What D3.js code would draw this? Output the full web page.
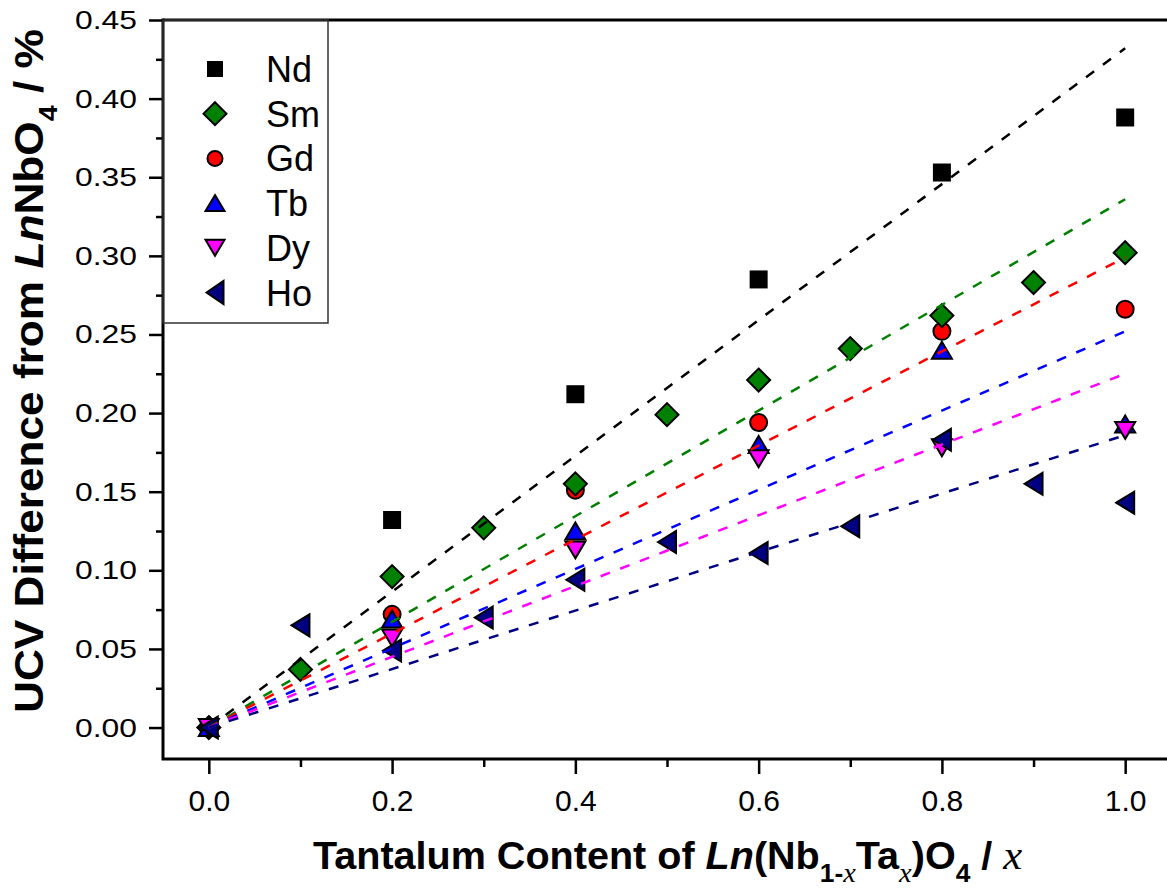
<!DOCTYPE html>
<html><head><meta charset="utf-8">
<script src="https://cdn.jsdelivr.net/npm/d3@7"></script>
<style>
body{margin:0;background:#fff;}
svg{display:block;}
text{font-family:"Liberation Sans",Arial,sans-serif;fill:#000;}
</style></head>
<body>
<svg id="c" width="1167" height="892"></svg>
<script>
// ---- data ----
const xTickVals = [0, 0.2, 0.4, 0.6, 0.8, 1.0];
const xTickLabels = ["0.0", "0.2", "0.4", "0.6", "0.8", "1.0"];
const xMinorVals = [0.1, 0.3, 0.5, 0.7, 0.9];
const yTickVals = [0, 0.05, 0.10, 0.15, 0.20, 0.25, 0.30, 0.35, 0.40, 0.45];
const yTickLabels = ["0.00", "0.05", "0.10", "0.15", "0.20", "0.25", "0.30", "0.35", "0.40", "0.45"];
const yMinorVals = [0.025, 0.075, 0.125, 0.175, 0.225, 0.275, 0.325, 0.375, 0.425];

const seriesNames = ["Nd", "Sm", "Gd", "Tb", "Dy", "Ho"];
const seriesColors = ["#000000", "#008000", "#ff0000", "#0000ff", "#ff00ff", "#000080"];
const seriesShapes = ["square", "diamond", "circle", "up", "down", "left"];

const xNd = [0, 0.2, 0.4, 0.6, 0.8, 1.0];
const yNd = [0, 0.132, 0.212, 0.285, 0.353, 0.388];
const xSm = [0, 0.1, 0.2, 0.3, 0.4, 0.5, 0.6, 0.7, 0.8, 0.9, 1.0];
const ySm = [0, 0.037, 0.096, 0.127, 0.155, 0.199, 0.221, 0.241, 0.262, 0.283, 0.302];
const xGd = [0, 0.2, 0.4, 0.6, 0.8, 1.0];
const yGd = [0, 0.072, 0.151, 0.194, 0.252, 0.266];
const xTb = [0, 0.2, 0.4, 0.6, 0.8, 1.0];
const yTb = [0, 0.069, 0.125, 0.180, 0.240, 0.193];
const xDy = [0, 0.2, 0.4, 0.6, 0.8, 1.0];
const yDy = [0, 0.057, 0.113, 0.171, 0.178, 0.189];
const xHo = [0, 0.1, 0.2, 0.3, 0.4, 0.5, 0.6, 0.7, 0.8, 0.9, 1.0];
const yHo = [0, 0.065, 0.049, 0.070, 0.094, 0.118, 0.111, 0.128, 0.183, 0.155, 0.143];

// linear fits through origin (slope), drawn from x=0 to x=1
const fitSlopes = [0.432, 0.336, 0.299, 0.252, 0.225, 0.186];
const fitRange = [0, 1.0];

const seriesX = [xNd, xSm, xGd, xTb, xDy, xHo];
const seriesY = [yNd, ySm, yGd, yTb, yDy, yHo];
const drawOrder = [0, 2, 1, 3, 4, 5];

// ---- layout ----
const svg = d3.select("#c");
const L = 163, R = 1171, T = 20, B = 759;
const x = d3.scaleLinear().domain([-0.05, 1.05]).range([L, R]);
const y = d3.scaleLinear().domain([-0.02, 0.45]).range([B, T]);

function markerPath(shape, s) {
  const p = d3.path();
  if (shape === "square") { const h = s.sq / 2; p.rect(-h, -h, 2 * h, 2 * h); }
  else if (shape === "diamond") { const h = s.dia; p.moveTo(0, -h); p.lineTo(h, 0); p.lineTo(0, h); p.lineTo(-h, 0); p.closePath(); }
  else if (shape === "circle") { p.arc(0, 0, s.r, 0, 2 * Math.PI); }
  else if (shape === "up") { const w = s.tw / 2, h = s.th / 2; p.moveTo(0, -h); p.lineTo(w, h); p.lineTo(-w, h); p.closePath(); }
  else if (shape === "down") { const w = s.tw / 2, h = s.th / 2; p.moveTo(0, h); p.lineTo(w, -h); p.lineTo(-w, -h); p.closePath(); }
  else if (shape === "left") { const w = s.lw / 2, h = s.lh / 2; p.moveTo(-w, 0); p.lineTo(w, -h); p.lineTo(w, h); p.closePath(); }
  return p.toString();
}
const dataSize = {sq: 18, dia: 11.5, r: 8.5, tw: 20, th: 17, lw: 18, lh: 22};
const legSize = {sq: 16, dia: 11.5, r: 7.5, tw: 19, th: 16, lw: 17, lh: 23};

// markers
const gm = svg.append("g");
drawOrder.forEach(i => {
  const pts = seriesX[i].map((v, j) => [v, seriesY[i][j]]);
  gm.selectAll(null).data(pts).enter().append("path")
    .attr("d", markerPath(seriesShapes[i], dataSize))
    .attr("transform", d => `translate(${x(d[0])},${y(d[1])})`)
    .attr("fill", seriesColors[i])
    .attr("stroke", "#000").attr("stroke-width", i === 0 ? 0 : 2)
    .attr("stroke-linejoin", "miter");
});

// fit lines
const line = d3.line().x(d => x(d[0])).y(d => y(d[1]));
fitSlopes.forEach((k, i) => {
  svg.append("path")
    .attr("d", line(fitRange.map(v => [v, k * v])))
    .attr("fill", "none").attr("stroke", seriesColors[i])
    .attr("stroke-width", 2.5).attr("stroke-dasharray", "10,11");
});

// axes
const xAxis = d3.axisBottom(x).tickValues(xTickVals).tickFormat((d, i) => xTickLabels[i]).tickSize(15).tickPadding(8);
const gx = svg.append("g").attr("transform", `translate(0,${B})`).call(xAxis);
gx.selectAll("text").attr("font-size", 30).attr("dy", null).attr("y", 52).style("font-family", '"Liberation Sans",Arial,sans-serif');
const gxm = svg.append("g").attr("transform", `translate(0,${B})`).call(d3.axisBottom(x).tickValues(xMinorVals).tickSize(8).tickFormat(""));

const yAxis = d3.axisLeft(y).tickValues(yTickVals).tickFormat("").tickSize(14);
const gy = svg.append("g").attr("transform", `translate(${L},0)`).call(yAxis);
const gym = svg.append("g").attr("transform", `translate(${L},0)`).call(d3.axisLeft(y).tickValues(yMinorVals).tickSize(7).tickFormat(""));
[gx, gxm, gy, gym].forEach(g => {
  g.select(".domain").remove();
  g.selectAll("line").attr("stroke", "#000").attr("stroke-width", 2.5);
});

// y tick labels (wide)
yTickVals.forEach((v, i) => {
  const t = svg.append("text").attr("font-size", 25).attr("text-anchor", "end").text(yTickLabels[i]);
  const w = t.node().getComputedTextLength();
  t.attr("transform", `translate(137,${y(v) + 9}) scale(${62 / w},1)`);
});

// frame
svg.append("path").attr("d", `M${L},${T}H${R}`).attr("stroke", "#000").attr("stroke-width", 3).attr("fill", "none");
svg.append("path").attr("d", `M${L},${T - 1.5}V${B}H${R}`).attr("stroke", "#000").attr("stroke-width", 3).attr("fill", "none");

// legend
const legX = 215, legTx = 266, legY0 = 69, legDy = 44.7;
svg.append("rect").attr("x", L).attr("y", T).attr("width", 165).attr("height", 303)
  .attr("fill", "none").attr("stroke", "#333").attr("stroke-width", 1.5);
seriesNames.forEach((n, i) => {
  const cy = legY0 + i * legDy;
  svg.append("path").attr("d", markerPath(seriesShapes[i], legSize))
    .attr("transform", `translate(${legX},${cy})`)
    .attr("fill", seriesColors[i]).attr("stroke", "#000").attr("stroke-width", i === 0 ? 0 : 2);
  svg.append("text").attr("x", legTx).attr("y", cy + 13).attr("font-size", 36).text(n);
});

// x title
const serif = '"Liberation Serif","Times New Roman",serif';
const xt = svg.append("text").attr("font-size", 39).attr("font-weight", "bold");
xt.append("tspan").text("Tantalum Content of ");
xt.append("tspan").attr("font-style", "italic").text("Ln");
xt.append("tspan").text("(Nb");
xt.append("tspan").attr("font-size", 26).attr("dy", 13).text("1-");
xt.append("tspan").attr("font-size", 28).attr("font-style", "italic").attr("font-weight", "normal").style("font-family", serif).text("x");
xt.append("tspan").attr("dy", -13).text("Ta");
xt.append("tspan").attr("font-size", 28).attr("dy", 13).attr("font-style", "italic").attr("font-weight", "normal").style("font-family", serif).text("x");
xt.append("tspan").attr("dy", -13).text(")O");
xt.append("tspan").attr("font-size", 26).attr("dy", 13).text("4");
xt.append("tspan").attr("dy", -13).text(" / ");
xt.append("tspan").attr("font-style", "italic").attr("font-weight", "normal").attr("font-size", 42).style("font-family", serif).text("x");
{
  const w = xt.node().getBBox().width;
  const k = 710 / w;
  xt.attr("transform", `translate(313,869) scale(${k},1)`);
}

// y title
const yt = svg.append("text").attr("font-size", 40).attr("font-weight", "bold");
yt.append("tspan").text("UCV Difference from ");
yt.append("tspan").attr("font-style", "italic").text("Ln");
yt.append("tspan").text("NbO");
yt.append("tspan").attr("font-size", 26).attr("dy", 14).text("4");
yt.append("tspan").attr("dy", -14).text(" / %");
{
  const w = yt.node().getBBox().width;
  const k = 684 / w;
  yt.attr("transform", `translate(43,713) rotate(-90) scale(${k},1)`);
}
</script>
</body></html>
